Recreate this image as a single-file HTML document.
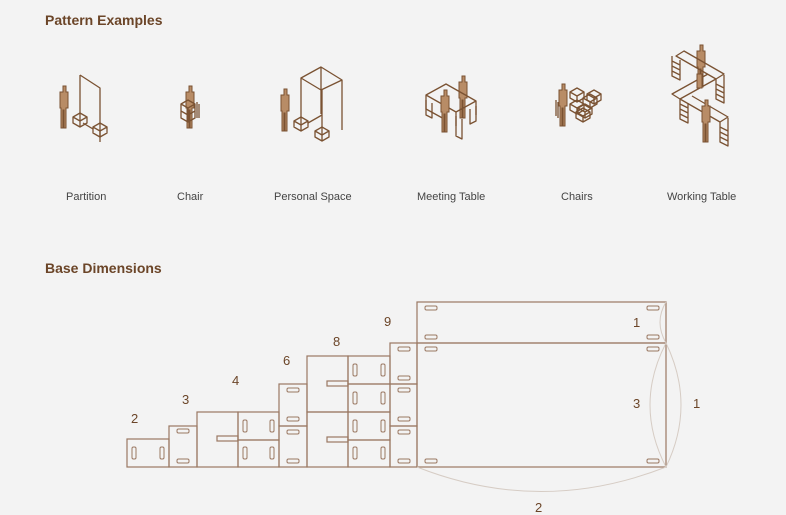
<!DOCTYPE html>
<html><head><meta charset="utf-8"><style>
html,body{margin:0;padding:0;background:#f3f3f3;width:786px;height:515px;overflow:hidden}
svg{display:block}
.t{font-family:"Liberation Sans",sans-serif;font-weight:bold;font-size:14px;fill:#6b4528}
.l{font-family:"Liberation Sans",sans-serif;font-size:11px;fill:#444}
.n{font-family:"Liberation Sans",sans-serif;font-size:13px;fill:#6b4528}
.b{fill:none;stroke:#9a7862;stroke-width:1.2}
.s{fill:none;stroke:#9a7862;stroke-width:1}
.i{fill:none;stroke:#7a5232;stroke-width:1.3;stroke-linejoin:round}
.p{fill:#b88c66;stroke:#7a5232;stroke-width:1}
.a{fill:none;stroke:#d6ccc4;stroke-width:1}
</style></head><body>
<svg width="786" height="515" viewBox="0 0 786 515">
<defs>
<path id="person" d="M3,0h3v6h2v16h-2v20h-2v-18h-1v18h-2v-20h-1v-16h3z"/>
<g id="cube"><path d="M0,4 l7,-4 l7,4 l-7,4z M0,4 v6 l7,4 v-6 M14,4 v6 l-7,4"/></g>
<rect id="hs" width="12" height="4" rx="1.5"/>
<rect id="vs" width="4" height="12" rx="1.5"/>
</defs>
<text class="t" x="45" y="25">Pattern Examples</text>
<text class="t" x="45" y="273">Base Dimensions</text>

<!-- Partition -->
<use href="#person" class="p" x="60" y="86"/>
<path class="i" d="M80,75 l20,13 v54 M80,75 v46"/>
<use href="#cube" class="i" x="73" y="113"/>
<use href="#cube" class="i" x="93" y="123"/>
<path class="i" d="M83,123 l10,6"/>
<text class="l" x="66" y="200">Partition</text>

<!-- Chair -->
<use href="#person" class="p" x="186" y="86"/>
<path class="i" d="M181,104 l7,-4 l7,4 l-7,4z M181,104 v14 l7,4 v-14 M195,104 v14 l-7,4 M181,111 l7,4 l7,-4 M197,102 v16 M199,104 v14"/>
<text class="l" x="177" y="200">Chair</text>

<!-- Personal Space -->
<use href="#person" class="p" x="281" y="89"/>
<path class="i" d="M301,78 l20,-11 l21,13 l-21,10z M301,78 v46 M321,67 v47 M342,80 v50 M322,90 v45"/>
<use href="#cube" class="i" x="294" y="117"/>
<use href="#cube" class="i" x="315" y="127"/>
<path class="i" d="M308,123 l14,-8"/>
<text class="l" x="274" y="200">Personal Space</text>

<!-- Meeting Table -->
<use href="#person" class="p" x="459" y="76"/>
<path class="i" d="M426,95 l20,-11 l30,17 l-20,11z M426,95 v14 l20,11 M456,112 v14 M476,101 v14"/>
<path class="i" d="M426,100 v15 l6,3 v-15 M456,116 v20 l6,3 v-20 M476,106 v15 l-6,3 v-15"/>
<use href="#person" class="p" x="441" y="90"/>
<text class="l" x="417" y="200">Meeting Table</text>

<!-- Chairs -->
<g class="i">
<use href="#cube" x="570" y="88"/><use href="#cube" x="583" y="94"/>
<use href="#cube" x="570" y="100"/><use href="#cube" x="578" y="104"/>
<use href="#cube" x="587" y="90"/><use href="#cube" x="576" y="108"/>
</g>
<use href="#person" class="p" x="559" y="84"/>
<path class="i" d="M556,100 v16 M558,102 v16"/>
<text class="l" x="561" y="200">Chairs</text>

<!-- Working Table -->
<use href="#person" class="p" x="697" y="45"/>
<path class="i" d="M676,56 l8,-5 l40,23 l-8,5z M716,79 l-36,20 l-8,-5 l36,-20 M680,99 l40,23 l8,-5 l-36,-21"/>
<path class="i" d="M672,56 v20 l8,4 v-20 M672,61 l8,4 M672,66 l8,4 M672,71 l8,4"/>
<path class="i" d="M716,79 v20 l8,4 v-28 M716,84 l8,4 M716,89 l8,4 M716,94 l8,4"/>
<path class="i" d="M680,99 v20 l8,4 v-20 M680,104 l8,4 M680,109 l8,4 M680,114 l8,4"/>
<path class="i" d="M720,122 v20 l8,4 v-28 M720,127 l8,4 M720,132 l8,4 M720,137 l8,4"/>
<rect x="697" y="74" width="5" height="14" class="p"/>
<use href="#person" class="p" x="702" y="100"/>
<text class="l" x="667" y="200">Working Table</text>

<!-- Base dimensions -->
<g class="b">
<rect x="127" y="439" width="42" height="28"/>
<rect x="169" y="426" width="28" height="41"/>
<rect x="197" y="412" width="41" height="55"/>
<rect x="238" y="412" width="41" height="28"/><rect x="238" y="440" width="41" height="27"/>
<rect x="279" y="384" width="28" height="42"/><rect x="279" y="426" width="28" height="41"/>
<rect x="307" y="356" width="41" height="56"/><rect x="307" y="412" width="41" height="55"/>
<rect x="348" y="356" width="42" height="28"/><rect x="348" y="384" width="42" height="28"/><rect x="348" y="412" width="42" height="28"/><rect x="348" y="440" width="42" height="27"/>
<rect x="390" y="343" width="27" height="41"/><rect x="390" y="384" width="27" height="42"/><rect x="390" y="426" width="27" height="41"/>
<rect x="417" y="302" width="249" height="41"/><rect x="417" y="343" width="249" height="124"/>
<rect x="217" y="436" width="21" height="5"/><rect x="327" y="381" width="21" height="5"/><rect x="327" y="437" width="21" height="5"/>
</g>
<g class="s">
<use href="#vs" x="132" y="447"/><use href="#vs" x="160" y="447"/>
<use href="#hs" x="177" y="429"/><use href="#hs" x="177" y="459"/>
<use href="#vs" x="243" y="420"/><use href="#vs" x="270" y="420"/><use href="#vs" x="243" y="447"/><use href="#vs" x="270" y="447"/>
<use href="#hs" x="287" y="388"/><use href="#hs" x="287" y="417"/><use href="#hs" x="287" y="430"/><use href="#hs" x="287" y="459"/>
<use href="#vs" x="353" y="364"/><use href="#vs" x="381" y="364"/><use href="#vs" x="353" y="392"/><use href="#vs" x="381" y="392"/>
<use href="#vs" x="353" y="420"/><use href="#vs" x="381" y="420"/><use href="#vs" x="353" y="447"/><use href="#vs" x="381" y="447"/>
<use href="#hs" x="398" y="347"/><use href="#hs" x="398" y="376"/><use href="#hs" x="398" y="388"/><use href="#hs" x="398" y="417"/><use href="#hs" x="398" y="430"/><use href="#hs" x="398" y="459"/>
<use href="#hs" x="425" y="306"/><use href="#hs" x="647" y="306"/><use href="#hs" x="425" y="335"/><use href="#hs" x="647" y="335"/>
<use href="#hs" x="425" y="347"/><use href="#hs" x="647" y="347"/><use href="#hs" x="425" y="459"/><use href="#hs" x="647" y="459"/>
</g>
<g class="a">
<path d="M666,302 Q654,322 666,343"/>
<path d="M666,343 Q634,405 666,467"/>
<path d="M666,343 Q696,405 666,467"/>
<path d="M417,467 Q541,516 666,467"/>
</g>
<g class="n">
<text x="131" y="423">2</text><text x="182" y="404">3</text><text x="232" y="385">4</text>
<text x="283" y="365">6</text><text x="333" y="346">8</text><text x="384" y="326">9</text>
<text x="633" y="327">1</text><text x="633" y="408">3</text><text x="693" y="408">1</text><text x="535" y="512">2</text>
</g>
</svg>
</body></html>
